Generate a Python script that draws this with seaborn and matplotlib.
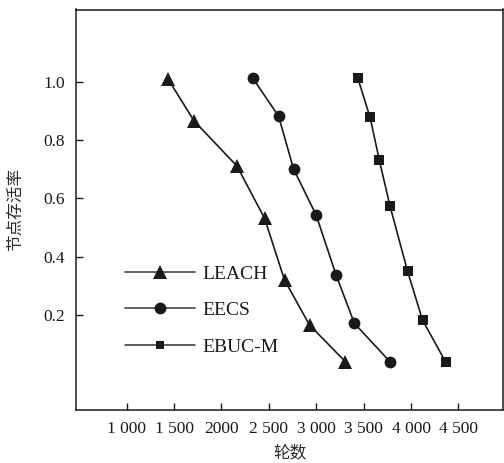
import matplotlib
matplotlib.use("Agg")
import matplotlib.pyplot as plt
import seaborn as sns
from matplotlib.lines import Line2D

sns.set_theme(style="white")
plt.rcParams['font.family'] = ['Liberation Serif', 'Noto Sans CJK SC', 'DejaVu Sans']

# Data
leach_x = [1438, 1711, 2164, 2455, 2666, 2929, 3308]
leach_y = [1.009, 0.866, 0.711, 0.532, 0.320, 0.166, 0.040]
eecs_x = [2332, 2603, 2761, 2999, 3210, 3402, 3778]
eecs_y = [1.012, 0.882, 0.701, 0.543, 0.337, 0.172, 0.040]
ebuc_x = [3437, 3568, 3665, 3778, 3963, 4121, 4367]
ebuc_y = [1.014, 0.878, 0.732, 0.574, 0.351, 0.183, 0.038]

x_ticks = [1000, 1500, 2000, 2500, 3000, 3500, 4000, 4500]
x_tick_labels = ["1 000", "1 500", "2000", "2 500", "3 000", "3 500", "4 000", "4 500"]
y_ticks = [0.2, 0.4, 0.6, 0.8, 1.0]
y_tick_labels = ["0.2", "0.4", "0.6", "0.8", "1.0"]
series_names = ["LEACH", "EECS", "EBUC-M"]

fig = plt.figure(figsize=(5.04, 4.63), dpi=100)
ax = fig.add_axes([76/504, 1-410/463, (503-76)/504, (410-9.5)/463])

sns.lineplot(x=leach_x, y=leach_y, ax=ax, color="#1a1a1a", marker="^", markersize=10,
             markeredgewidth=0, linewidth=1.2)
sns.lineplot(x=eecs_x, y=eecs_y, ax=ax, color="#1a1a1a", marker="o", markersize=8.5,
             markeredgewidth=0, linewidth=1.2)
sns.lineplot(x=ebuc_x, y=ebuc_y, ax=ax, color="#1a1a1a", marker="s", markersize=7,
             markeredgewidth=0, linewidth=1.2)

ax.set_xlim(466, 4970)
ax.set_ylim(-0.1255, 1.248)
ax.set_xticks(x_ticks)
ax.set_xticklabels(x_tick_labels)
ax.set_yticks(y_ticks)
ax.set_yticklabels(y_tick_labels)
ax.tick_params(axis="both", direction="in", length=5, width=1, color="#1a1a1a",
               labelsize=12.5, labelcolor="#1a1a1a", pad=8, left=True, bottom=True)
for s in ax.spines.values():
    s.set_color("#1a1a1a")
    s.set_linewidth(1.1)

ax.set_xlabel("轮数", fontsize=12, color="#2a2a2a", family=['Noto Sans CJK SC'], labelpad=5)
ax.set_ylabel("节点存活率", fontsize=12, color="#2a2a2a", family=['Noto Sans CJK SC'], labelpad=14)

handles = [
    Line2D([], [], color="#444444", linewidth=1.2, marker="^", markersize=10,
           markerfacecolor="#1a1a1a", markeredgewidth=0),
    Line2D([], [], color="#444444", linewidth=1.2, marker="o", markersize=8.5,
           markerfacecolor="#1a1a1a", markeredgewidth=0),
    Line2D([], [], color="#444444", linewidth=1.2, marker="s", markersize=6,
           markerfacecolor="#1a1a1a", markeredgewidth=0),
]
leg = ax.legend(handles, series_names, loc="upper left",
                bbox_to_anchor=(125/504, 1-265/463), bbox_transform=fig.transFigure,
                frameon=False, fontsize=14, handlelength=3.6, handletextpad=0.4,
                labelspacing=0.98, borderpad=0, borderaxespad=0)
for t in leg.get_texts():
    t.set_color("#1a1a1a")

fig.savefig("out.png", dpi=100)
